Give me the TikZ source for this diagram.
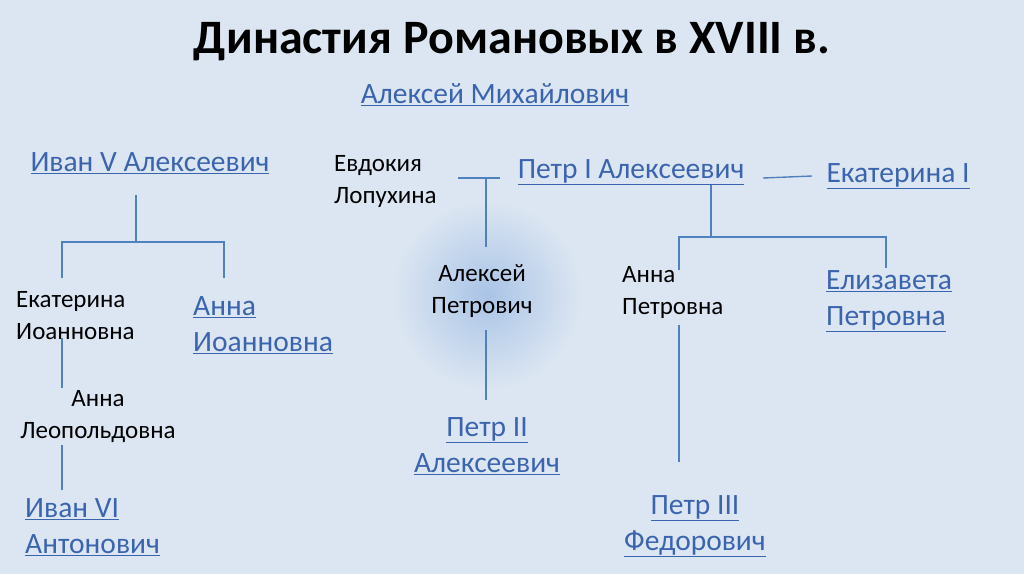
\documentclass[tikz,border=0pt]{standalone}
\usepackage{fontspec}
\setmainfont{Carlito}
\begin{document}
\begin{tikzpicture}[x=1pt,y=-1pt,
  lk/.style={text=linkc,font=\fontsize{29.5}{36}\selectfont,inner sep=0pt,align=left},
  bk/.style={text=black,font=\fontsize{25}{32}\selectfont,inner sep=0pt,align=left},
  ln/.style={draw=linec,line width=1.4pt}]
\definecolor{bgc}{HTML}{DCE6F2}
\definecolor{glow}{HTML}{A9C4E6}
\definecolor{linkc}{HTML}{3B64AE}
\definecolor{linec}{HTML}{4F81BD}
\newcommand{\ul}[1]{\underline{#1}}
\fill[bgc] (0,0) rectangle (1024,574);
\useasboundingbox (0,0) rectangle (1024,574);
\shade[inner color=glow,outer color=bgc] (487,295) circle (95);
\node (title) at (512,42) {\fontsize{48}{54}\selectfont\bfseries Династия Романовых в XVIII в.};
\node[lk] (am) at (495,95) {\ul{Алексей Михайлович}};
\node[lk] (iv) at (150,163) {\ul{Иван V Алексеевич}};
\node[bk,anchor=west] (ei) at (16,316) {Екатерина\\Иоанновна};
\node[lk,anchor=west] (ai) at (193,325) {\ul{Анна}\\\ul{Иоанновна}};
\node[bk,align=center] (al) at (98,417) {Анна\\Леопольдовна};
\node[lk,anchor=west] (i6) at (25,527) {\ul{Иван VI}\\\ul{Антонович}};
\node[bk,anchor=west] (el) at (334,181) {Евдокия\\Лопухина};
\node[lk] (p1) at (631,172) {\ul{Петр I Алексеевич}};
\node[lk] (e1) at (898,176) {\ul{Екатерина I}};
\node[bk,align=center] (ap) at (482,291) {Алексей\\Петрович};
\node[lk,align=center] (p2) at (487,446) {\ul{Петр II}\\\ul{Алексеевич}};
\node[bk,anchor=west] (anp) at (622,292) {Анна\\Петровна};
\node[lk,anchor=west] (ep) at (826,301) {\ul{Елизавета}\\\ul{Петровна}};
\node[lk,align=center] (p3) at (695,526) {\ul{Петр III}\\\ul{Федорович}};
% connectors
\draw[ln] (136,195) -- (136,242);
\draw[ln] (62,278) -- (62,242) -- (224,242) -- (224,278);
\draw[ln] (62,338) -- (62,388);
\draw[ln] (62,445) -- (62,490);
\draw[ln] (458,178) -- (500,178);
\draw[ln] (486,178) -- (486,247);
\draw[ln] (486,330) -- (486,400);
\draw[ln] (763,178) -- (812,176);
\draw[ln] (711,185) -- (711,237);
\draw[ln] (679,270) -- (679,237) -- (886,237) -- (886,268);
\draw[ln] (679,325) -- (679,462);
\end{tikzpicture}
\end{document}
